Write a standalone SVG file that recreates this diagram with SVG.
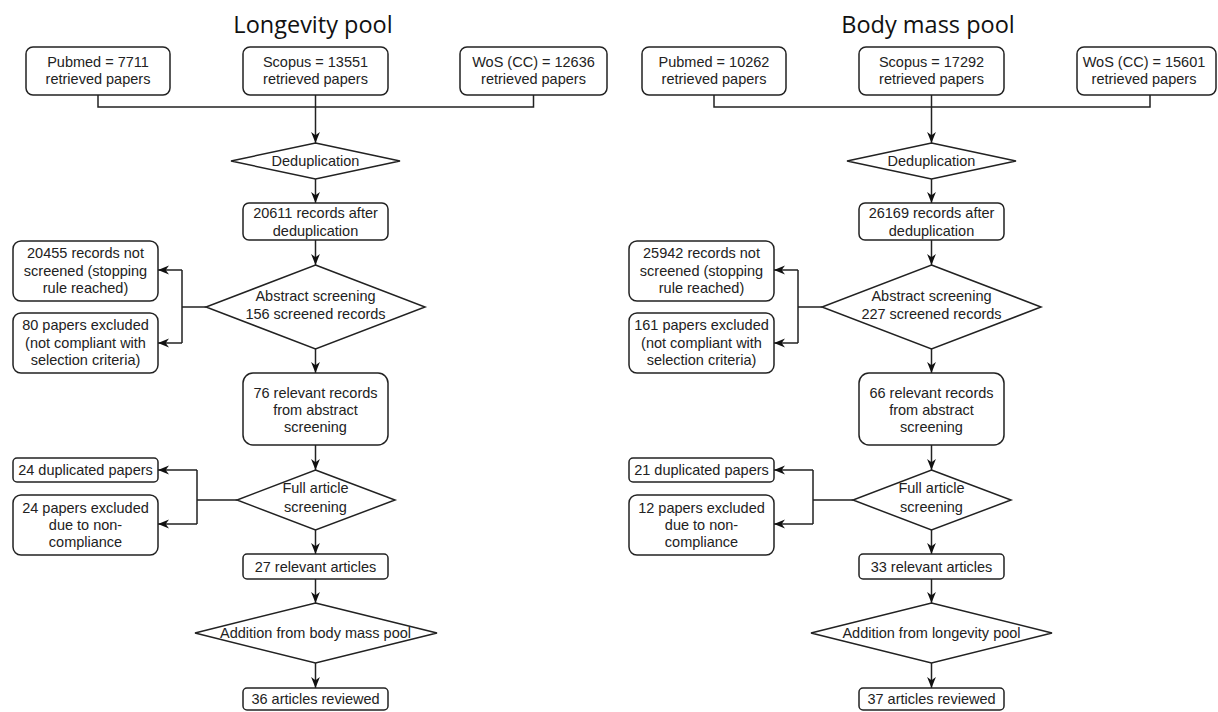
<svg xmlns="http://www.w3.org/2000/svg" width="1218" height="712" viewBox="0 0 1218 712">
<style>
.n{fill:#fff;stroke:#222;stroke-width:1.5}
.t{font-family:"Liberation Sans",Arial,sans-serif;font-size:14.5px;fill:#222;text-anchor:middle}
.title{font-family:"Open Sans","Noto Sans",sans-serif;font-size:23.5px;fill:#111;text-anchor:middle}
.c{fill:none;stroke:#222;stroke-width:1.5}
.a{fill:none;stroke:#222;stroke-width:1.5;marker-end:url(#arr)}
</style>
<defs>
<marker id="arr" viewBox="0 0 10 10" refX="10" refY="5" markerWidth="11" markerHeight="11" markerUnits="userSpaceOnUse" orient="auto">
<path d="M0,1 L10,5 L0,9 L3,5 z" fill="#111"/>
</marker>
</defs>
<rect width="1218" height="712" fill="#fff"/>

<text class="title" x="313" y="33">Longevity pool</text>
<text class="title" x="928" y="33">Body mass pool</text>

<g id="connectors">
<!-- left -->
<path class="c" d="M98,95 V107 H533.5 V95"/>
<path class="a" d="M315.5,95 V143"/>
<path class="a" d="M315.5,179 V203"/>
<path class="a" d="M315.5,240 V265"/>
<path class="c" d="M206,307 H182 M182,270 V343"/>
<path class="a" d="M182,270 H158"/>
<path class="a" d="M182,343 H158"/>
<path class="a" d="M315.5,349 V373"/>
<path class="a" d="M315.5,445 V470"/>
<path class="c" d="M237,500 H197 M197,470 V524"/>
<path class="a" d="M197,470 H158"/>
<path class="a" d="M197,524 H158"/>
<path class="a" d="M315.5,530 V554"/>
<path class="a" d="M315.5,579 V603"/>
<path class="a" d="M315.5,663 V688"/>
<!-- right -->
<path class="c" d="M714,95 V107 H1150 V95"/>
<path class="a" d="M931.5,95 V143"/>
<path class="a" d="M931.5,179 V203"/>
<path class="a" d="M931.5,240 V265"/>
<path class="c" d="M822,307 H798 M798,270 V343"/>
<path class="a" d="M798,270 H774"/>
<path class="a" d="M798,343 H774"/>
<path class="a" d="M931.5,349 V373"/>
<path class="a" d="M931.5,445 V470"/>
<path class="c" d="M853,500 H813 M813,470 V524"/>
<path class="a" d="M813,470 H774"/>
<path class="a" d="M813,524 H774"/>
<path class="a" d="M931.5,530 V554"/>
<path class="a" d="M931.5,579 V603"/>
<path class="a" d="M931.5,663 V688"/>
</g>

<!-- LEFT NODES -->
<g id="l-pubmed"><rect class="n" x="26" y="47" width="144" height="48" rx="7"/><text class="t" x="98" y="66.5">Pubmed = 7711</text><text class="t" x="98" y="84">retrieved papers</text></g>
<g id="l-scopus"><rect class="n" x="243" y="47" width="145" height="48" rx="7"/><text class="t" x="315.5" y="66.5">Scopus = 13551</text><text class="t" x="315.5" y="84">retrieved papers</text></g>
<g id="l-wos"><rect class="n" x="460" y="47" width="147" height="48" rx="7"/><text class="t" x="533.5" y="66.5">WoS (CC) = 12636</text><text class="t" x="533.5" y="84">retrieved papers</text></g>
<g id="l-dedup"><polygon class="n" points="315.5,143 400,161 315.5,179 231,161"/><text class="t" x="315.5" y="166">Deduplication</text></g>
<g id="l-after"><rect class="n" x="243" y="203" width="145" height="37" rx="6"/><text class="t" x="315.5" y="218">20611 records after</text><text class="t" x="315.5" y="236">deduplication</text></g>
<g id="l-abstract"><polygon class="n" points="315.5,265 425,307 315.5,349 206,307"/><text class="t" x="315.5" y="301">Abstract screening</text><text class="t" x="315.5" y="319">156 screened records</text></g>
<g id="l-notscreened"><rect class="n" x="13" y="241" width="145" height="60" rx="8"/><text class="t" x="85.5" y="258">20455 records not</text><text class="t" x="85.5" y="276">screened (stopping</text><text class="t" x="85.5" y="293">rule reached)</text></g>
<g id="l-excluded"><rect class="n" x="13" y="313" width="145" height="60" rx="8"/><text class="t" x="85.5" y="330">80 papers excluded</text><text class="t" x="85.5" y="348">(not compliant with</text><text class="t" x="85.5" y="365">selection criteria)</text></g>
<g id="l-relevant"><rect class="n" x="243" y="373" width="145" height="72" rx="10"/><text class="t" x="315.5" y="398">76 relevant records</text><text class="t" x="315.5" y="415">from abstract</text><text class="t" x="315.5" y="432">screening</text></g>
<g id="l-full"><polygon class="n" points="315.5,470 395,500 315.5,530 237,500"/><text class="t" x="315.5" y="493">Full article</text><text class="t" x="315.5" y="512">screening</text></g>
<g id="l-dup"><rect class="n" x="13" y="458" width="145" height="24" rx="4"/><text class="t" x="85.5" y="475">24 duplicated papers</text></g>
<g id="l-noncomp"><rect class="n" x="13" y="495" width="145" height="60" rx="8"/><text class="t" x="85.5" y="513">24 papers excluded</text><text class="t" x="85.5" y="530">due to non-</text><text class="t" x="85.5" y="547">compliance</text></g>
<g id="l-articles"><rect class="n" x="243" y="554" width="145" height="25" rx="4"/><text class="t" x="315.5" y="571.5">27 relevant articles</text></g>
<g id="l-addition"><polygon class="n" points="315.5,603 437,633 315.5,663 195,633"/><text class="t" x="315.5" y="637.5">Addition from body mass pool</text></g>
<g id="l-reviewed"><rect class="n" x="243" y="688" width="145" height="22" rx="4"/><text class="t" x="315.5" y="704">36 articles reviewed</text></g>

<!-- RIGHT NODES -->
<g id="r-pubmed"><rect class="n" x="642" y="47" width="144" height="48" rx="7"/><text class="t" x="714" y="66.5">Pubmed = 10262</text><text class="t" x="714" y="84">retrieved papers</text></g>
<g id="r-scopus"><rect class="n" x="859" y="47" width="145" height="48" rx="7"/><text class="t" x="931.5" y="66.5">Scopus = 17292</text><text class="t" x="931.5" y="84">retrieved papers</text></g>
<g id="r-wos"><rect class="n" x="1077" y="47" width="139" height="48" rx="7"/><text class="t" x="1144" y="66.5">WoS (CC) = 15601</text><text class="t" x="1144" y="84">retrieved papers</text></g>
<g id="r-dedup"><polygon class="n" points="931.5,143 1016,161 931.5,179 847,161"/><text class="t" x="931.5" y="166">Deduplication</text></g>
<g id="r-after"><rect class="n" x="859" y="203" width="145" height="37" rx="6"/><text class="t" x="931.5" y="218">26169 records after</text><text class="t" x="931.5" y="236">deduplication</text></g>
<g id="r-abstract"><polygon class="n" points="931.5,265 1041,307 931.5,349 822,307"/><text class="t" x="931.5" y="301">Abstract screening</text><text class="t" x="931.5" y="319">227 screened records</text></g>
<g id="r-notscreened"><rect class="n" x="629" y="241" width="145" height="60" rx="8"/><text class="t" x="701.5" y="258">25942 records not</text><text class="t" x="701.5" y="276">screened (stopping</text><text class="t" x="701.5" y="293">rule reached)</text></g>
<g id="r-excluded"><rect class="n" x="629" y="313" width="145" height="60" rx="8"/><text class="t" x="701.5" y="330">161 papers excluded</text><text class="t" x="701.5" y="348">(not compliant with</text><text class="t" x="701.5" y="365">selection criteria)</text></g>
<g id="r-relevant"><rect class="n" x="859" y="373" width="145" height="72" rx="10"/><text class="t" x="931.5" y="398">66 relevant records</text><text class="t" x="931.5" y="415">from abstract</text><text class="t" x="931.5" y="432">screening</text></g>
<g id="r-full"><polygon class="n" points="931.5,470 1011,500 931.5,530 853,500"/><text class="t" x="931.5" y="493">Full article</text><text class="t" x="931.5" y="512">screening</text></g>
<g id="r-dup"><rect class="n" x="629" y="458" width="145" height="24" rx="4"/><text class="t" x="701.5" y="475">21 duplicated papers</text></g>
<g id="r-noncomp"><rect class="n" x="629" y="495" width="145" height="60" rx="8"/><text class="t" x="701.5" y="513">12 papers excluded</text><text class="t" x="701.5" y="530">due to non-</text><text class="t" x="701.5" y="547">compliance</text></g>
<g id="r-articles"><rect class="n" x="859" y="554" width="145" height="25" rx="4"/><text class="t" x="931.5" y="571.5">33 relevant articles</text></g>
<g id="r-addition"><polygon class="n" points="931.5,603 1052,633 931.5,663 811,633"/><text class="t" x="931.5" y="637.5">Addition from longevity pool</text></g>
<g id="r-reviewed"><rect class="n" x="859" y="688" width="145" height="22" rx="4"/><text class="t" x="931.5" y="704">37 articles reviewed</text></g>
</svg>
